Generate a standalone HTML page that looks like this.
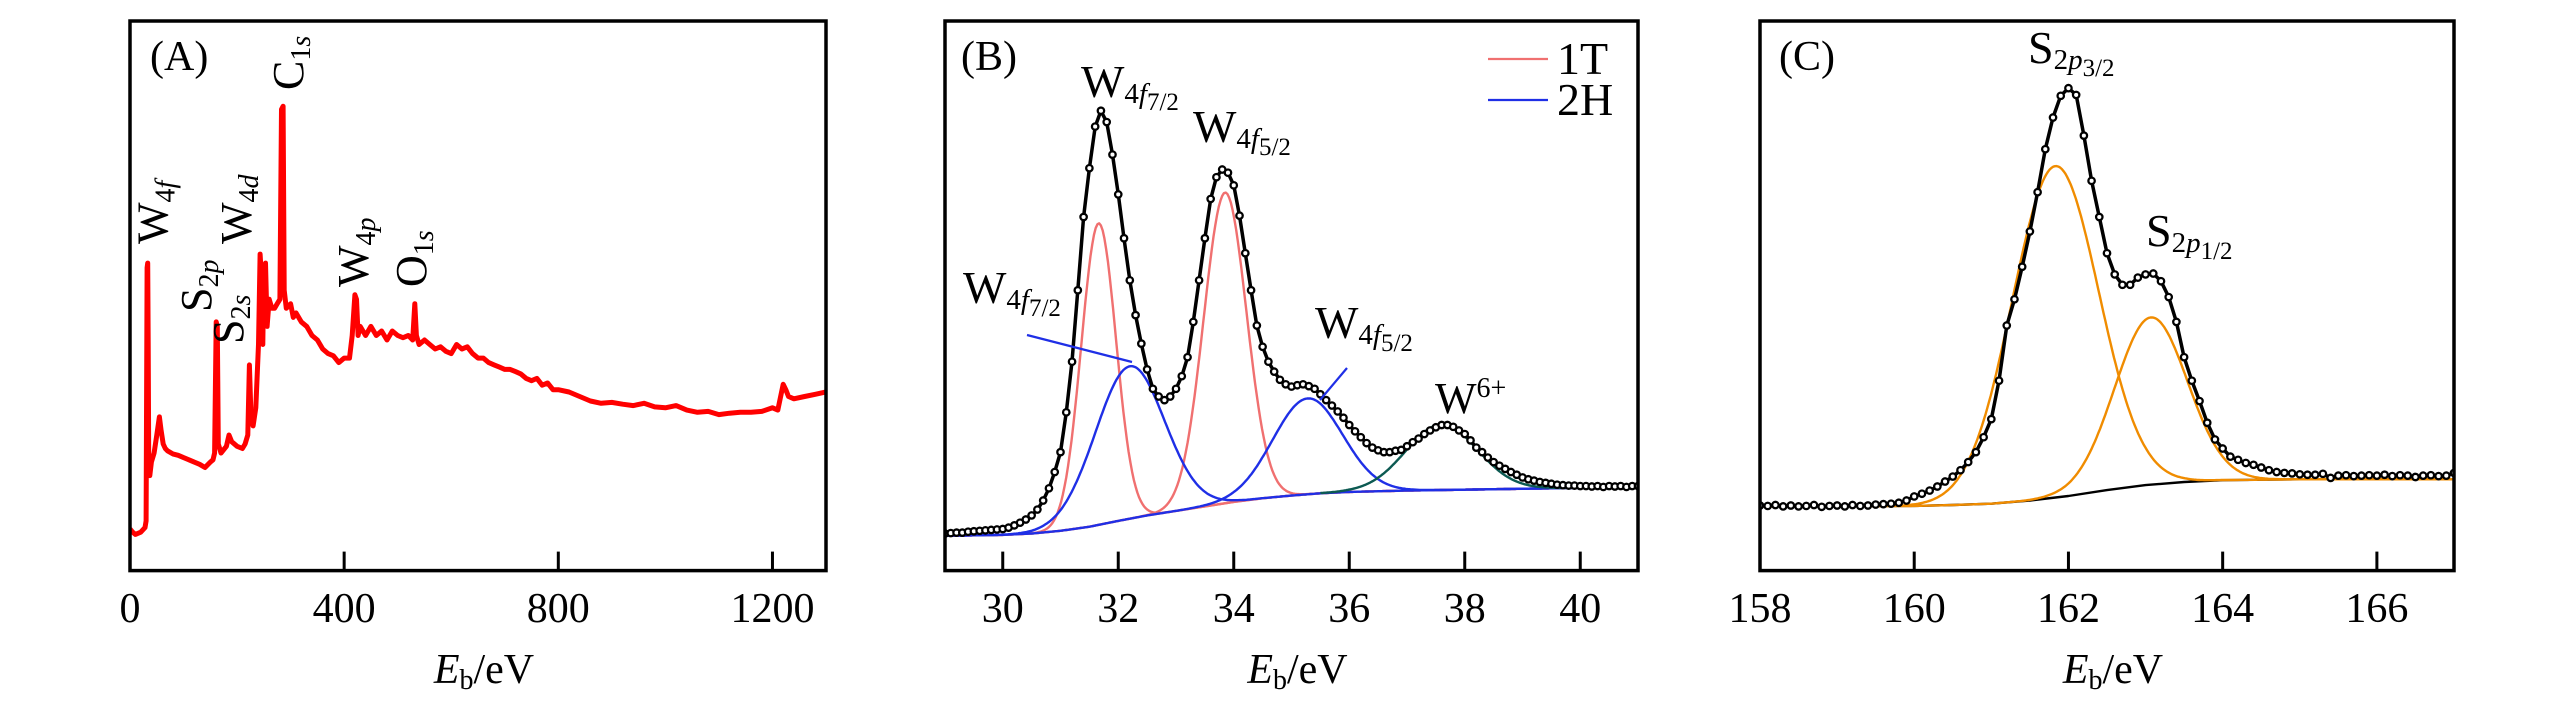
<!DOCTYPE html>
<html><head><meta charset="utf-8">
<style>
html,body{margin:0;padding:0;background:#fff;}
svg{display:block;font-family:"Liberation Serif",serif;}
</style></head>
<body>
<svg id="fig" width="2567" height="709" viewBox="0 0 2567 709" xmlns="http://www.w3.org/2000/svg"></svg>
<script>
// ---------- Panel A: survey spectrum ----------
const surveyEnergy = [0,5,10,20,28,30,32,33,34,35,37,40,45,50,55,58,62,66,70,80,90,100,110,120,130,140,150,155,158,161,163,165,170,180,185,190,200,210,215,220,223,226,230,235,240,243,246,248,250,253,256,260,265,270,275,280,283,286,288,292,300,305,310,320,330,340,350,360,370,380,390,400,410,415,420,423,426,430,440,450,460,470,480,490,500,510,520,528,532,535,540,550,560,570,580,590,600,610,620,630,640,650,660,670,680,690,700,710,720,730,740,750,760,770,780,790,800,820,840,860,880,900,920,940,960,980,1000,1020,1040,1060,1080,1100,1120,1140,1160,1180,1200,1210,1220,1225,1230,1240,1260,1280,1300];
const surveyIntensity = [92,85,80,85,95,110,670,680,500,250,210,240,260,300,340,310,280,270,265,258,255,250,245,240,235,228,240,245,260,550,540,280,260,275,300,285,275,270,280,300,455,340,320,360,500,700,640,500,660,680,540,600,580,580,590,600,1020,1027,620,580,590,560,570,550,540,520,510,490,480,475,460,470,470,520,610,600,520,540,520,540,520,530,510,530,520,515,520,510,590,520,500,510,500,490,495,485,480,500,490,495,480,470,470,460,455,450,445,445,440,435,425,420,425,410,415,400,400,395,385,375,370,372,368,365,370,362,360,365,355,350,352,345,348,350,350,352,360,355,412,400,385,380,385,390,395];
const surveyTicks = [0,400,800,1200];
const surveyPeakNames = ["W","S","S","W","C","W","O"];
const surveyPeakSubs = ['4<tspan font-style="italic">f</tspan>','2<tspan font-style="italic">p</tspan>','2<tspan font-style="italic">s</tspan>','4<tspan font-style="italic">d</tspan>','1<tspan font-style="italic">s</tspan>','4<tspan font-style="italic">p</tspan>','1<tspan font-style="italic">s</tspan>'];
const surveyPeakEnergy = [33,161,224,243,284,420,532];

// ---------- Panel B: W 4f ----------
const wEnergy = [29.0,29.1,29.2,29.3,29.4,29.5,29.6,29.7,29.8,29.9,30.0,30.1,30.2,30.3,30.4,30.5,30.6,30.7,30.8,30.9,31.0,31.1,31.2,31.3,31.4,31.5,31.6,31.7,31.8,31.9,32.0,32.1,32.2,32.3,32.4,32.5,32.6,32.7,32.8,32.9,33.0,33.1,33.2,33.3,33.4,33.5,33.6,33.7,33.8,33.9,34.0,34.1,34.2,34.3,34.4,34.5,34.6,34.7,34.8,34.9,35.0,35.1,35.2,35.3,35.4,35.5,35.6,35.7,35.8,35.9,36.0,36.1,36.2,36.3,36.4,36.5,36.6,36.7,36.8,36.9,37.0,37.1,37.2,37.3,37.4,37.5,37.6,37.7,37.8,37.9,38.0,38.1,38.2,38.3,38.4,38.5,38.6,38.7,38.8,38.9,39.0,39.1,39.2,39.3,39.4,39.5,39.6,39.7,39.8,39.9,40.0,40.1,40.2,40.3,40.4,40.5,40.6,40.7,40.8,40.9,41.0];
const wIntensity = [82,83,84,84,86,87,88,89,90,91,92,95,100,106,113,122,135,155,182,218,262,350,462,620,782,890,982,1017,992,920,832,735,642,565,502,445,402,385,377,385,402,430,472,550,642,735,822,870,887,880,852,785,702,620,542,495,462,440,422,412,407,410,412,408,402,390,377,365,352,338,322,308,295,282,272,266,262,262,265,267,275,284,292,302,310,317,322,322,318,310,302,288,272,262,250,240,232,225,218,212,206,202,199,196,194,192,190,189,188,188,187,187,186,187,185,187,186,187,185,187,187];
const wBaseE = [29,30,30.5,31,31.5,32,32.5,33,33.5,34,34.5,35,35.5,36,37,38,39,40,41];
const wBaseI = [77,79,82,88,97,110,122,132,142,152,160,166,171,174,177,179,181,183,184];
const w1TCenter = [31.66,33.85];
const w1TAmp = [667,687];
const w1TSigma = [0.30,0.37];
const w2HCenter = [32.2,35.28];
const w2HAmp = [337,212];
const w2HSigma = [0.6,0.6];
const w6Center = [37.6];
const w6Amp = [145];
const w6Sigma = [0.62];
const wTicks = [30,32,34,36,38,40];

// ---------- Panel C: S 2p ----------
const sEnergy = [158.0,158.1,158.2,158.3,158.4,158.5,158.6,158.7,158.8,158.9,159.0,159.1,159.2,159.3,159.4,159.5,159.6,159.7,159.8,159.9,160.0,160.1,160.2,160.3,160.4,160.5,160.6,160.7,160.8,160.9,161.0,161.1,161.2,161.3,161.4,161.5,161.6,161.7,161.8,161.9,162.0,162.1,162.2,162.3,162.4,162.5,162.6,162.7,162.8,162.9,163.0,163.1,163.2,163.3,163.4,163.5,163.6,163.7,163.8,163.9,164.0,164.1,164.2,164.3,164.4,164.5,164.6,164.7,164.8,164.9,165.0,165.1,165.2,165.3,165.4,165.5,165.6,165.7,165.8,165.9,166.0,166.1,166.2,166.3,166.4,166.5,166.6,166.7,166.8,166.9,167.0];
const sIntensity = [144,143,145,142,144,142,143,145,141,143,144,142,145,143,144,146,147,148,150,155,164,170,177,186,197,208,222,240,262,295,335,420,542,600,672,750,837,932,1002,1050,1067,1052,962,862,782,702,655,632,632,648,655,657,640,605,550,472,420,375,327,290,270,252,245,238,234,228,222,218,216,215,213,212,212,214,205,210,211,209,210,211,210,212,209,211,210,207,210,211,209,210,216];
const sBaseE = [158,160,160.5,161,161.5,162,162.5,163,163.5,164,165,167];
const sBaseI = [142,143,145,148,155,165,178,189,196,200,202,202];
const sCenter = [161.83,163.07];
const sAmp = [733,370];
const sSigma = [0.56,0.47];
const sTicks = [158,160,162,164,166];

// ---------- helpers ----------
const NS = "http://www.w3.org/2000/svg";
const svg = document.getElementById("fig");
const TOP = 21, BOT = 570.6, YS = 2.2116;
function yOf(I){ return BOT - I / YS; }
function mk(tag, attrs, parent){
  const e = document.createElementNS(NS, tag);
  for (const k in attrs) e.setAttribute(k, attrs[k]);
  (parent || svg).appendChild(e);
  return e;
}
function interp(xs, ys, x){
  if (x <= xs[0]) return ys[0];
  for (let i = 1; i < xs.length; i++) if (x <= xs[i]) {
    const t = (x - xs[i-1]) / (xs[i] - xs[i-1]);
    return ys[i-1] + t * (ys[i] - ys[i-1]);
  }
  return ys[ys.length-1];
}
function makePanel(name, L, R, xmin, xmax){
  const g = mk("g", {});
  
  
  const cp = mk("clipPath", {id: name + "-clip"}, g);
  mk("rect", {x: L, y: TOP, width: R - L, height: BOT - TOP}, cp);
  const plot = mk("g", {"clip-path": "url(#" + name + "-clip)"}, g);
  
  
  return {g, plot, L, R, x: v => L + (v - xmin) / (xmax - xmin) * (R - L)};
}
function frame(p, ticks){
  const f = mk("rect", {x: p.L, y: TOP, width: p.R - p.L, height: BOT - TOP, fill: "none", stroke: "#000", "stroke-width": 3.5}, p.g);
  
  
  ticks.forEach(t => {
    const tk = mk("line", {x1: p.x(t), x2: p.x(t), y1: BOT, y2: BOT - 19, stroke: "#000", "stroke-width": 3}, p.g);
    
    
    const tl = mk("text", {x: p.x(t), y: 622, "text-anchor": "middle", "font-size": 42}, p.g);
    tl.textContent = t;
    
    
  });
  const tt = mk("text", {x: (p.L + p.R) / 2 + 6, y: 683, "text-anchor": "middle", "font-size": 42}, p.g);
  
  
  tt.innerHTML = '<tspan font-style="italic">E</tspan><tspan font-size="28" dy="6">b</tspan><tspan dy="-6">/eV</tspan>';
}
function polyline(p, pts, color, w, nm){
  const el = mk("polyline", {points: pts.map(q => q[0].toFixed(1) + "," + q[1].toFixed(1)).join(" "), fill: "none", stroke: color, "stroke-width": w, "stroke-linejoin": "round"}, p.plot);
  
  
  return el;
}
function gaussCurve(p, xmin, xmax, baseE, baseI, c, a, s, color, nm){
  const pts = [];
  for (let v = xmin; v <= xmax + 1e-9; v += (xmax - xmin) / 400) {
    const I = interp(baseE, baseI, v) + a * Math.exp(-((v - c) ** 2) / (2 * s * s));
    pts.push([p.x(v), yOf(I)]);
  }
  polyline(p, pts, color, 2.4, nm);
}
function dots(p, xs, ys, nm){
  polyline(p, xs.map((v, i) => [p.x(v), yOf(ys[i])]), "#000", 3.5, nm + "-line");
  xs.forEach((v, i) => {
    const c = mk("circle", {cx: p.x(v), cy: yOf(ys[i]), r: 3.2, fill: "#fff", stroke: "#000", "stroke-width": 2.3}, p.plot);
    
    
  });
}
function label(parent, x, y, main, sub, subsub, size, nm){
  const t = mk("text", {x: x, y: y, "font-size": size}, parent);
  
  
  let h = main + '<tspan font-size="' + Math.round(size * 0.62) + '" dy="6">' + sub + '</tspan>';
  if (subsub) h += '<tspan font-size="' + Math.round(size * 0.55) + '" dy="7">' + subsub + '</tspan>';
  t.innerHTML = h;
  return t;
}

// ---------- draw A ----------
const A = makePanel("panel-a-survey", 130, 826, 0, 1300);
polyline(A, surveyEnergy.map((v, i) => [A.x(v), yOf(surveyIntensity[i])]), "#ff0000", 5, "survey-spectrum-line");
frame(A, surveyTicks);
const aLbl = mk("text", {x: 150, y: 70, "font-size": 42}, A.g);
aLbl.textContent = "(A)";


const aLabelY = [244, 312, 344, 244, 90, 287, 287];
const aLabelDx = [20, -5, -7, -9, 21, 13, 11];
surveyPeakEnergy.forEach((e, i) => {
  const x = A.x(e) + aLabelDx[i];
  const y = aLabelY[i];
  const t = mk("text", {x: x, y: y, "font-size": 44, transform: "rotate(-90 " + x + " " + y + ")"}, A.g);
  
  
  t.innerHTML = surveyPeakNames[i] + '<tspan font-size="28" dy="7">' + surveyPeakSubs[i] + '</tspan>';
});

// ---------- draw B ----------
const B = makePanel("panel-b-w4f", 945, 1638, 29, 41);
polyline(B, wBaseE.map((v, i) => [B.x(v), yOf(wBaseI[i])]), "#f07070", 2.4, "w-background-line");
w1TCenter.forEach((c, i) => gaussCurve(B, 29, 41, wBaseE, wBaseI, c, w1TAmp[i], w1TSigma[i], "#f07070", "w-1t-component"));
w2HCenter.forEach((c, i) => gaussCurve(B, 29, 41, wBaseE, wBaseI, c, w2HAmp[i], w2HSigma[i], "#1f2fe6", "w-2h-component"));
w6Center.forEach((c, i) => gaussCurve(B, 35.5, 41, wBaseE, wBaseI, c, w6Amp[i], w6Sigma[i], "#0c5a52", "w6-component"));
dots(B, wEnergy, wIntensity, "w-data");
frame(B, wTicks);
const bLbl = mk("text", {x: 961, y: 70, "font-size": 42}, B.g);
bLbl.textContent = "(B)";


const fI = '4<tspan font-style="italic">f</tspan>';
label(B.g, 1081, 97, "W", fI, "7/2", 46, "label-w4f72-1t");
label(B.g, 1193, 142, "W", fI, "5/2", 46, "label-w4f52-1t");
label(B.g, 963, 303, "W", fI, "7/2", 46, "label-w4f72-2h");
label(B.g, 1315, 338, "W", fI, "5/2", 46, "label-w4f52-2h");
const w6 = mk("text", {x: 1435, y: 413, "font-size": 44}, B.g);
w6.innerHTML = 'W<tspan font-size="28" dy="-16">6+</tspan>';


const ld1 = mk("line", {x1: 1027, y1: 335, x2: 1132, y2: 362, stroke: "#1f2fe6", "stroke-width": 2.2}, B.g);


const ld2 = mk("line", {x1: 1347, y1: 368, x2: 1320, y2: 400, stroke: "#1f2fe6", "stroke-width": 2.2}, B.g);


const legend = mk("g", {}, B.g);


[["1T", "#f07070", 59], ["2H", "#1f2fe6", 100]].forEach(e => {
  const ln = mk("line", {x1: 1488, x2: 1548, y1: e[2], y2: e[2], stroke: e[1], "stroke-width": 2.2}, legend);
  
  
  const tx = mk("text", {x: 1557, y: e[2] + 15, "font-size": 46}, legend);
  tx.textContent = e[0];
  
  
});

// ---------- draw C ----------
const C = makePanel("panel-c-s2p", 1760, 2454, 158, 167);
polyline(C, sBaseE.map((v, i) => [C.x(v), yOf(sBaseI[i])]), "#000", 2.4, "s-background-line");
sCenter.forEach((c, i) => gaussCurve(C, 158, 167, sBaseE, sBaseI, c, sAmp[i], sSigma[i], "#f08c00", "s-component"));
dots(C, sEnergy, sIntensity, "s-data");
frame(C, sTicks);
const cLbl = mk("text", {x: 1779, y: 70, "font-size": 42}, C.g);
cLbl.textContent = "(C)";


const pI = '2<tspan font-style="italic">p</tspan>';
label(C.g, 2028, 63, "S", pI, "3/2", 46, "label-s2p32");
label(C.g, 2146, 246, "S", pI, "1/2", 46, "label-s2p12");
</script>
</body></html>
